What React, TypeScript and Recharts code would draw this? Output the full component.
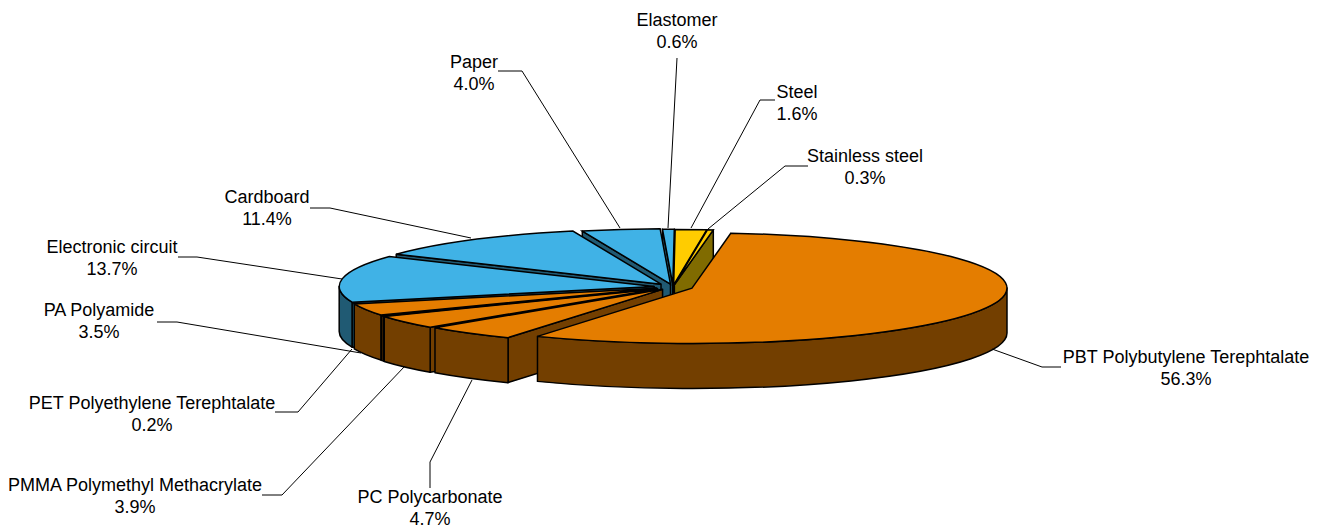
import React from "react";
import { PieChart, Pie } from "recharts";

const categories = [
  "PBT Polybutylene Terephtalate",
  "PC Polycarbonate",
  "PMMA Polymethyl Methacrylate",
  "PET Polyethylene Terephtalate",
  "PA Polyamide",
  "Electronic circuit",
  "Cardboard",
  "Paper",
  "Elastomer",
  "Steel",
  "Stainless steel",
];
const shares = [56.3, 4.7, 3.9, 0.2, 3.5, 13.7, 11.4, 4.0, 0.6, 1.6, 0.3];

// styling / layout tables (not data)
const ORANGE = ["#E47D00", "#733F00"];
const BLUE = ["#40B2E6", "#205A73"];
const YELLOW = ["#FFCC00", "#806B00"];
const palette = [ORANGE, ORANGE, ORANGE, ORANGE, ORANGE, BLUE, BLUE, BLUE, BLUE, YELLOW, YELLOW];
const explodePx = [20, 17, 19, 18, 18, 19, 20, 16, 14, 12, 12];
const labelCentre: [number, number][] = [
  [1186, 357], [430, 497], [135, 485], [152, 403], [99, 310], [112, 247], [267, 197], [474, 62], [677, 20], [797, 92], [865, 156],
];
const leaders: [number, number][][] = [
  [[992, 349], [1042, 367], [1061, 367]],
  [[472, 380], [430, 462], [430, 488]],
  [[405, 366], [282, 495], [262, 495]],
  [[352, 349], [298, 412], [275, 412]],
  [[361, 353], [177, 322], [157, 322]],
  [[342, 279], [197, 257], [178, 257]],
  [[471, 238], [330, 208], [310, 208]],
  [[620, 228], [522, 71], [498, 71]],
  [[668, 228], [677, 58]],
  [[691, 228], [760, 100], [775, 100]],
  [[708, 229], [785, 166], [808, 166]],
];

const data = categories.map((name, i) => ({ name, value: shares[i] }));
const reversedData = [...data].reverse();
const RY_RATIO = 55.4 / 315;
const DEPTH = 45;
const OUTLINE = 1.5;
const RAD = Math.PI / 180;

function geometry(p: any) {
  const name = p.name ?? p.payload?.name;
  const i = categories.indexOf(name);
  const rx = p.outerRadius;
  const ry = rx * RY_RATIO;
  const hiAngle = Math.max(p.startAngle, p.endAngle);
  const sweep = Math.abs(p.endAngle - p.startAngle);
  const t1 = (((90 - hiAngle) % 360) + 360) % 360;
  const t2 = t1 + sweep;
  const mid = ((t1 + t2) / 2) * RAD;
  const e = explodePx[i];
  const ax = p.cx + e * Math.sin(mid);
  const ay = p.cy - e * RY_RATIO * Math.cos(mid);
  const pt = (t: number, dz = 0): [number, number] => [
    ax + rx * Math.sin(t * RAD),
    ay - ry * Math.cos(t * RAD) + dz,
  ];
  return { i, rx, ry, t1, t2, ax, ay, pt };
}

function Top(p: any) {
  const { i, rx, ry, t1, t2, ax, ay, pt } = geometry(p);
  const a = pt(t1);
  const b = pt(t2);
  const large = t2 - t1 > 180 ? 1 : 0;
  return (
    <path
      d={`M${ax},${ay}L${a[0]},${a[1]}A${rx},${ry} 0 ${large} 1 ${b[0]},${b[1]}Z`}
      fill={palette[i][0]}
      stroke="#000"
      strokeWidth={OUTLINE}
      strokeLinejoin="miter"
    />
  );
}

function faceAt(p: any, which: "start" | "end") {
  const { i, t1, t2, ax, ay, pt } = geometry(p);
  const t = which === "start" ? t1 : t2;
  const visible = which === "start" ? Math.sin(t * RAD) < 0 : Math.sin(t * RAD) > 0;
  if (!visible) return <g />;
  const a = pt(t);
  const b = pt(t, DEPTH);
  return (
    <path
      d={`M${ax},${ay}L${a[0]},${a[1]}L${b[0]},${b[1]}L${ax},${ay + DEPTH}Z`}
      fill={palette[i][1]}
      stroke="#000"
      strokeWidth={OUTLINE}
      strokeLinejoin="round"
    />
  );
}
const StartFace = (p: any) => faceAt(p, "start");
const EndFace = (p: any) => faceAt(p, "end");

function Rim(p: any) {
  const { i, rx, ry, t1, t2, pt } = geometry(p);
  const rim: string[] = [];
  for (const [lo, hi] of [[90, 270], [450, 630]]) {
    const s = Math.max(t1, lo);
    const f = Math.min(t2, hi);
    if (f > s) {
      const a = pt(s);
      const b = pt(f);
      const a2 = pt(s, DEPTH);
      const b2 = pt(f, DEPTH);
      const large = f - s > 180 ? 1 : 0;
      rim.push(
        `M${a[0]},${a[1]}A${rx},${ry} 0 ${large} 1 ${b[0]},${b[1]}L${b2[0]},${b2[1]}A${rx},${ry} 0 ${large} 0 ${a2[0]},${a2[1]}Z`
      );
    }
  }
  return (
    <g>
      {rim.map((d, k) => (
        <path key={k} d={d} fill={palette[i][1]} stroke="#000" strokeWidth={OUTLINE} strokeLinejoin="round" />
      ))}
    </g>
  );
}

function Leader(p: any) {
  const i = categories.indexOf(p.name ?? p.payload?.name);
  return (
    <polyline
      points={leaders[i].map((q) => q.join(",")).join(" ")}
      fill="none"
      stroke="#000"
      strokeWidth={1}
    />
  );
}

function Label(p: any) {
  const i = categories.indexOf(p.name ?? p.payload?.name);
  const [x, y] = labelCentre[i];
  return (
    <text
      x={x}
      textAnchor="middle"
      fontFamily="'Liberation Sans', Arial, sans-serif"
      fontSize={18}
      fill="#000"
    >
      <tspan x={x} y={y + 6}>{categories[i]}</tspan>
      <tspan x={x} y={y + 28}>{shares[i].toFixed(1)}%</tspan>
    </text>
  );
}

const common = {
  dataKey: "value",
  nameKey: "name",
  cx: 673,
  cy: 287,
  innerRadius: 0,
  outerRadius: 315,
  isAnimationActive: false,
  stroke: "none",
};
const forward = { ...common, data, startAngle: 82.9, endAngle: -277.1 };
const backward = { ...common, data: reversedData, startAngle: -277.1, endAngle: 82.9 };

export default function App() {
  return (
    <div style={{ position: "absolute", left: 0, top: 0, width: 1322, height: 526, background: "#fff" }}>
      <PieChart width={1322} height={526} margin={{ top: 0, right: 0, bottom: 0, left: 0 }}>
        <Pie {...(backward as any)} shape={StartFace} inactiveShape={StartFace} activeShape={StartFace} label={false} labelLine={false} />
        <Pie {...(forward as any)} shape={EndFace} inactiveShape={EndFace} activeShape={EndFace} label={false} labelLine={false} />
        <Pie {...(forward as any)} shape={Rim} inactiveShape={Rim} activeShape={Rim} label={false} labelLine={false} />
        <Pie {...(forward as any)} shape={Top} inactiveShape={Top} activeShape={Top} label={Label} labelLine={Leader} />
      </PieChart>
    </div>
  );
}
